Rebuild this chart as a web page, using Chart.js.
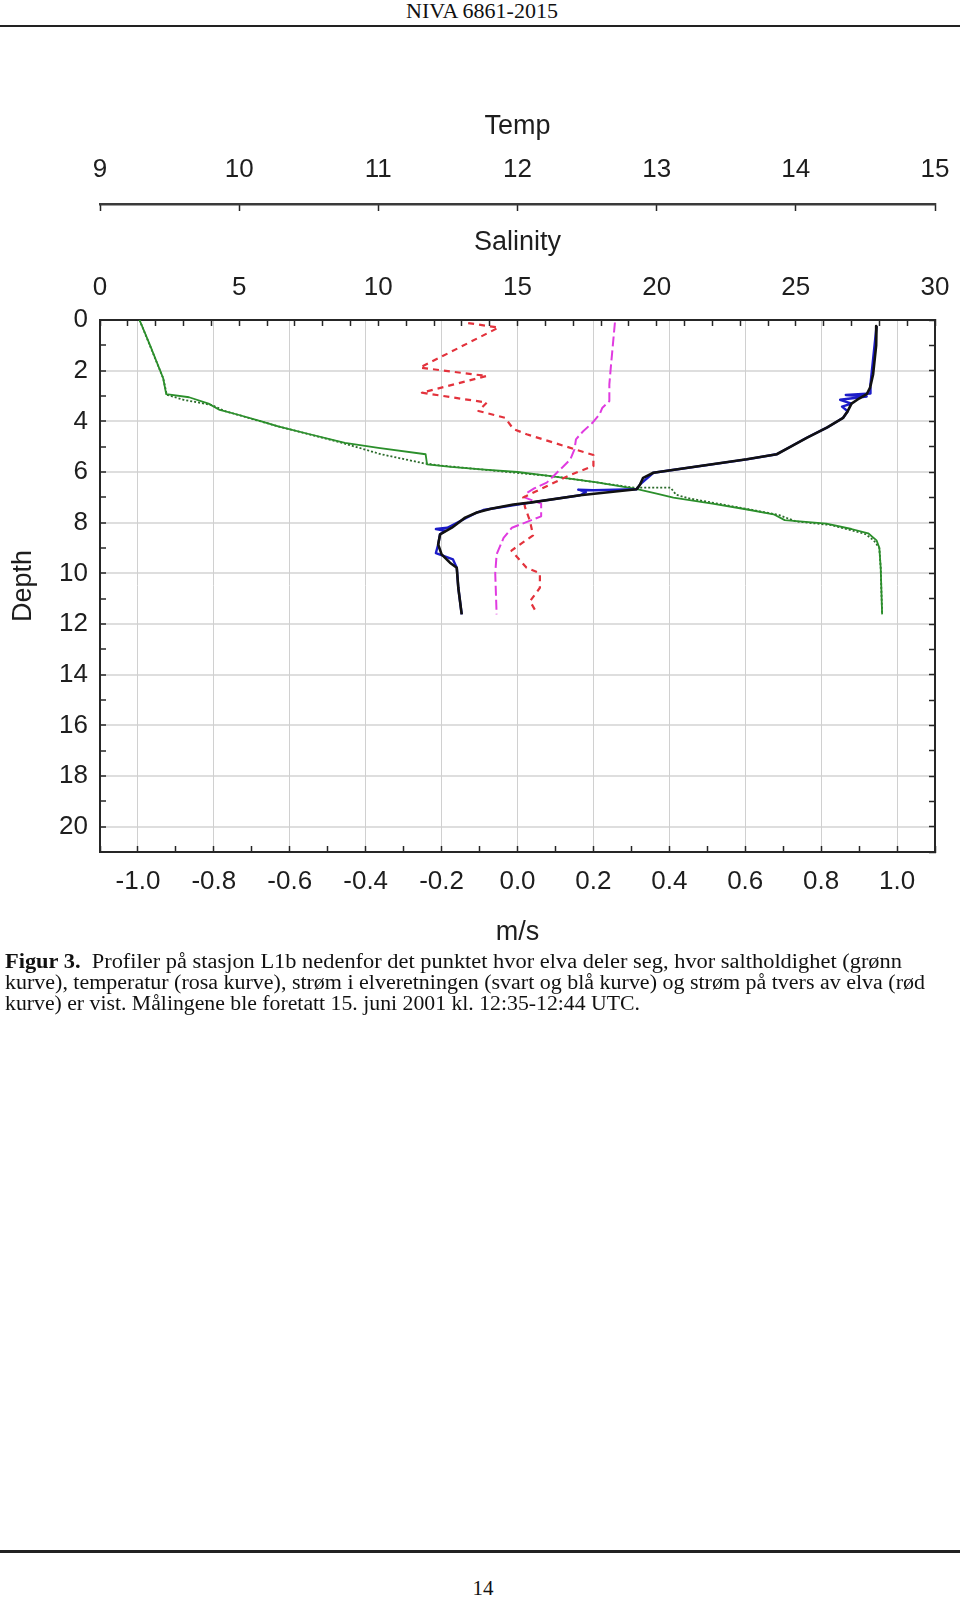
<!DOCTYPE html>
<html>
<head>
<meta charset="utf-8">
<script src="https://cdn.jsdelivr.net/npm/chart.js@4.4.0/dist/chart.umd.min.js"></script>
<style>
  html, body { margin: 0; padding: 0; background: #fff; }
  body { width: 960px; height: 1597px; position: relative; overflow: hidden;
         font-family: "Liberation Serif", "Times New Roman", serif; color: #111; }
  .hdr { position: absolute; top: 0; left: 0; width: 964px; text-align: center;
         font-size: 22px; line-height: 22px; }
  .rule-top { position: absolute; left: 0; top: 25px; width: 960px; height: 2px; background: #222; }
  .rule-bot { position: absolute; left: 0; top: 1550px; width: 960px; height: 3px; background: #222; }
  .pgnum { position: absolute; top: 1578px; left: 0; width: 966px; text-align: center;
           font-size: 21px; line-height: 21px; }
  #chartWrap { position: absolute; left: 0; top: 91px; width: 960px; height: 860px; }
  .cap { position: absolute; left: 5px; font-size: 20px; line-height: 21px; white-space: nowrap;
         transform-origin: 0 0; }
</style>
</head>
<body>
<div class="hdr">NIVA 6861-2015</div>
<div class="rule-top"></div>

<div id="chartWrap"><canvas id="profileChart" width="960" height="860"></canvas></div>

<div class="cap" style="top:951px" data-w="897"><b>Figur 3.</b>&nbsp; Profiler på stasjon L1b nedenfor det punktet hvor elva deler seg, hvor saltholdighet (grønn</div>
<div class="cap" style="top:972px" data-w="920">kurve), temperatur (rosa kurve), strøm i elveretningen (svart og blå kurve) og strøm på tvers av elva (rød</div>
<div class="cap" style="top:993px" data-w="635">kurve) er vist. Målingene ble foretatt 15. juni 2001 kl. 12:35-12:44 UTC.</div>

<div class="rule-bot"></div>
<div class="pgnum">14</div>

<script>
// ---- profile data (depth in m) ----

// salinity, solid green
const salinityDepth = [0.0, 1.0, 2.3, 2.93, 3.05, 3.3, 3.55, 3.75, 4.0, 4.2, 4.5, 4.85, 5.05, 5.3, 5.7, 5.8, 5.9, 6.0, 6.16, 6.4, 6.68, 6.85, 7.01, 7.25, 7.47, 7.67, 7.9, 8.04, 8.25, 8.42, 8.7, 8.99, 9.8, 11.62];
const salinityValue = [1.42, 1.8, 2.27, 2.38, 3.2, 3.9, 4.3, 5.0, 5.8, 6.4, 7.5, 8.8, 10.0, 11.7, 11.75, 12.6, 13.7, 15.0, 16.2, 17.8, 19.3, 20.0, 20.6, 22.0, 23.2, 24.2, 24.6, 26.1, 27.0, 27.6, 27.9, 28.0, 28.05, 28.1];

// salinity, dotted green
const salinity2Depth = [0.0, 2.3, 2.95, 3.15, 3.35, 3.6, 4.2, 4.85, 5.3, 5.65, 5.75, 5.9, 6.16, 6.62, 6.62, 6.9, 7.05, 7.47, 7.7, 7.95, 8.1, 8.45, 8.7, 9.0, 9.8, 11.62];
const salinity2Value = [1.42, 2.27, 2.4, 3.0, 4.0, 4.5, 6.4, 8.7, 10.1, 11.6, 12.3, 13.7, 16.2, 19.2, 20.5, 20.7, 21.2, 23.3, 24.4, 25.0, 26.3, 27.5, 27.8, 28.0, 28.05, 28.1];

// temperature, pink
const tempDepth = [0.1, 1.9, 2.54, 3.2, 3.46, 3.72, 4.05, 4.4, 4.71, 5.1, 5.5, 5.83, 6.1, 6.42, 6.65, 6.82, 7.0, 7.25, 7.75, 7.9, 8.2, 8.6, 9.25, 10.0, 11.62];
const tempValue = [12.70, 12.67, 12.66, 12.66, 12.61, 12.59, 12.54, 12.47, 12.42, 12.41, 12.38, 12.32, 12.27, 12.21, 12.12, 12.07, 12.05, 12.17, 12.17, 12.10, 11.96, 11.90, 11.85, 11.84, 11.85];

// current along the river, black
const alongDepth = [0.24, 1.0, 2.14, 2.67, 2.93, 3.1, 3.3, 3.6, 3.86, 4.25, 4.65, 5.0, 5.3, 5.5, 6.03, 6.23, 6.49, 6.68, 6.92, 7.21, 7.28, 7.45, 7.6, 7.8, 8.2, 8.46, 8.86, 9.25, 9.58, 9.78, 10.57, 11.62];
const alongValue = [0.946, 0.945, 0.937, 0.929, 0.92, 0.90, 0.88, 0.87, 0.858, 0.815, 0.762, 0.72, 0.683, 0.604, 0.358, 0.331, 0.323, 0.314, 0.165, 0.033, -0.011, -0.07, -0.107, -0.138, -0.173, -0.204, -0.209, -0.2, -0.178, -0.16, -0.156, -0.147];

// current along the river, blue
const along2Depth = [0.24, 2.67, 2.9, 2.96, 3.02, 3.15, 3.3, 3.42, 3.6, 3.86, 4.25, 4.65, 5.3, 5.5, 6.03, 6.49, 6.68, 6.72, 6.7, 6.8, 6.92, 7.21, 7.5, 7.6, 8.2, 8.25, 8.32, 8.46, 8.86, 9.2, 9.45, 9.78, 10.57, 11.62];
const along2Value = [0.946, 0.929, 0.93, 0.865, 0.92, 0.85, 0.88, 0.855, 0.87, 0.858, 0.815, 0.762, 0.683, 0.604, 0.358, 0.323, 0.314, 0.2, 0.16, 0.18, 0.165, 0.033, -0.09, -0.107, -0.185, -0.215, -0.19, -0.204, -0.209, -0.215, -0.17, -0.16, -0.156, -0.147];

// current across the river, red
const acrossDepth = [0.12, 0.3, 1.88, 2.21, 2.87, 3.26, 3.59, 3.86, 4.3, 4.51, 5.33, 5.76, 6.12, 6.63, 7.01, 7.4, 7.94, 8.5, 9.1, 9.78, 10.0, 10.57, 11.1, 11.55];
const acrossValue = [-0.13, -0.05, -0.257, -0.081, -0.252, -0.081, -0.103, -0.033, -0.011, 0.024, 0.20, 0.20, 0.138, 0.067, 0.015, 0.02, 0.033, 0.041, -0.016, 0.024, 0.059, 0.059, 0.033, 0.05];

// tick labels
const depthTicks = [0, 2, 4, 6, 8, 10, 12, 14, 16, 18, 20];
const speedTicks = ['-1.0', '-0.8', '-0.6', '-0.4', '-0.2', '0.0', '0.2', '0.4', '0.6', '0.8', '1.0'];
const salinityTicks = [0, 5, 10, 15, 20, 25, 30];
const tempTicks = [9, 10, 11, 12, 13, 14, 15];

//////////////////////////////////////////////
// Style
//////////////////////////////////////////////
const FONT = "'Liberation Sans', Arial, sans-serif";
const TEXT = '#1e1e1e';
const AXIS_COL = '#262626';
const tickFont = { family: FONT, size: 26, lineHeight: 1 };
const titleFont = { family: FONT, size: 27, lineHeight: 1 };
const CLEAR = 'rgba(0,0,0,0)';

function toPoints(depths, values) {
    return depths.map((d, i) => ({ x: values[i], y: d }));
}

function line(label, axis, depths, values, color, width, dash) {
    return {
        label: label,
        xAxisID: axis,
        yAxisID: 'depth',
        data: toPoints(depths, values),
        borderColor: color,
        backgroundColor: color,
        borderWidth: width,
        borderDash: dash || [],
        showLine: true,
        pointRadius: 0,
        tension: 0,
        borderJoinStyle: 'round'
    };
}

// fixed box size for an axis; the end labels may hang outside the plot
function fixHeight(h) {
    return s => { s.height = h; s.paddingLeft = 0; s.paddingRight = 0; };
}
function fixWidth(w) {
    return s => { s.width = w; s.paddingTop = 0; s.paddingBottom = 0; };
}

//////////////////////////////////////////////
// Chart
//////////////////////////////////////////////
const ctx = document.getElementById('profileChart').getContext('2d');
const profileChart = new Chart(ctx, {
    type: 'scatter',
    data: {
        datasets: [
            line('along', 'speed', alongDepth, alongValue, '#111111', 2.6),
            line('along2', 'speed', along2Depth, along2Value, '#1c1cc8', 2.4),
            line('across', 'speed', acrossDepth, acrossValue, '#e3323c', 2.2, [6, 5]),
            line('temp', 'temp', tempDepth, tempValue, '#e03be0', 2, [10, 4]),
            line('salinity', 'salinity', salinityDepth, salinityValue, '#2b8f2b', 1.8),
            line('salinity2', 'salinity', salinity2Depth, salinity2Value, '#2a6a2a', 1.8, [2, 2])
        ]
    },
    options: {
        responsive: false,
        animation: false,
        events: [],
        layout: { padding: 0 },
        plugins: { legend: { display: false }, tooltip: { enabled: false } },
        scales: {
            depth: {
                type: 'linear', position: 'left', reverse: true, min: 0, max: 21,
                afterFit: fixWidth(100),
                border: { display: true, color: AXIS_COL, width: 2 },
                grid: {
                    color: c => (c.tick && c.tick.value > 0 && depthTicks.includes(c.tick.value)) ? '#dedede' : CLEAR,
                    lineWidth: 2, tickLength: -6, tickColor: AXIS_COL, tickWidth: 1.5
                },
                ticks: {
                    stepSize: 1, autoSkip: false, padding: 18, color: TEXT, font: tickFont,
                    callback: v => depthTicks.includes(v) ? String(v) : ''
                },
                title: { display: true, text: 'Depth', color: TEXT, font: titleFont, padding: { top: 10, bottom: 0 } }
            },
            depthRight: {
                type: 'linear', position: 'right', reverse: true, min: 0, max: 21,
                afterFit: fixWidth(25),
                border: { display: true, color: AXIS_COL, width: 2 },
                grid: { drawOnChartArea: false, tickLength: -6, tickColor: AXIS_COL, tickWidth: 1.5 },
                ticks: { stepSize: 1, autoSkip: false, display: false }
            },
            speed: {
                type: 'linear', position: 'bottom', min: -1.1, max: 1.1,
                afterFit: fixHeight(99),
                border: { display: true, color: AXIS_COL, width: 2 },
                grid: {
                    color: c => {
                        const k = c.tick ? Math.round(c.tick.value * 10) : 1;
                        return (k % 2 === 0 && Math.abs(k) <= 10) ? '#d0d0d0' : CLEAR;
                    },
                    lineWidth: 1, tickLength: -6, tickColor: AXIS_COL, tickWidth: 1.5
                },
                ticks: {
                    stepSize: 0.1, autoSkip: false, maxRotation: 0, padding: 23, color: TEXT, font: tickFont,
                    callback: v => {
                        const k = Math.round(v * 10);
                        return (k % 2 === 0 && Math.abs(k) <= 10) ? speedTicks[(k + 10) / 2] : '';
                    }
                },
                title: { display: true, text: 'm/s', color: TEXT, font: titleFont, padding: { top: 0, bottom: 5 } }
            },
            salinity: {
                type: 'linear', position: 'top', min: 0, max: 30, weight: 0,
                afterFit: fixHeight(116),
                border: { display: true, color: AXIS_COL, width: 2 },
                grid: { drawOnChartArea: false, tickLength: -6, tickColor: AXIS_COL, tickWidth: 1.5 },
                ticks: {
                    stepSize: 1, autoSkip: false, maxRotation: 0, padding: 25, color: TEXT, font: tickFont,
                    callback: v => salinityTicks.includes(v) ? String(v) : ''
                },
                title: { display: true, text: 'Salinity', color: TEXT, font: titleFont, padding: { top: 25, bottom: 0 } }
            },
            temp: {
                type: 'linear', position: 'top', min: 9, max: 15, weight: 1,
                afterFit: fixHeight(113),
                border: { display: true, color: '#3a3a3a', width: 2.5 },
                grid: { drawOnChartArea: false, tickLength: -7, tickColor: AXIS_COL, tickWidth: 1.5 },
                ticks: {
                    stepSize: 1, autoSkip: false, maxRotation: 0, padding: 28, color: TEXT, font: tickFont,
                    callback: v => tempTicks.includes(v) ? String(v) : ''
                },
                title: { display: true, text: 'Temp', color: TEXT, font: titleFont, padding: { top: 22, bottom: 0 } }
            }
        }
    }
});

//////////////////////////////////////////////
// Caption lines stretched to the printed widths
//////////////////////////////////////////////
document.querySelectorAll('.cap').forEach(el => {
    const target = parseFloat(el.dataset.w);
    const actual = el.getBoundingClientRect().width;
    if (actual > 0) {
        el.style.transform = 'scaleX(' + (target / actual).toFixed(4) + ')';
    }
});
</script>
</body>
</html>
